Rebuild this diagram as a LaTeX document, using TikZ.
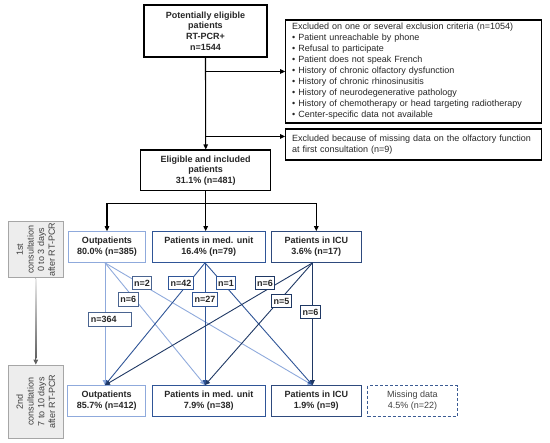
\documentclass[tikz,border=0pt]{standalone}
\usepackage{fontspec}
\setmainfont{Liberation Sans}
\usetikzlibrary{arrows.meta,calc}
\definecolor{lb}{HTML}{8FAADC}
\definecolor{mb}{HTML}{2F5597}
\definecolor{db}{HTML}{1F3864}
\definecolor{ib}{HTML}{2E4A7D}
\definecolor{lablb}{HTML}{4A6490}
\definecolor{txt}{HTML}{262626}
\definecolor{sidefill}{HTML}{EDEDED}
\definecolor{sidedraw}{HTML}{A6A6A6}
\definecolor{sidetxt}{HTML}{404040}
\begin{document}
\begin{tikzpicture}[x=1pt,y=-1pt,
  every node/.style={inner sep=0pt, text=txt},
  blk/.style={draw=black, line width=1.1pt, align=center, font=\fontsize{9}{10.7}\selectfont\bfseries},
  exbox/.style={draw=black, line width=1.1pt, align=left, font=\fontsize{9}{11}\selectfont, inner xsep=6.5pt, text width=243pt},
  bluebox/.style={draw=#1, line width=1pt, fill=white, align=center, font=\fontsize{9}{10.7}\selectfont\bfseries, minimum height=30.7pt},
  sidebox/.style={draw=sidedraw, fill=sidefill, line width=0.8pt},
  sidetext/.style={align=center, text=sidetxt, rotate=90, font=\fontsize{9}{10.7}\selectfont},
  lab/.style={draw=#1, fill=white, line width=0.9pt, font=\fontsize{9}{10}\selectfont\bfseries, minimum height=13.5pt, inner xsep=2pt},
  arr/.style={-{Triangle[length=5pt,width=4.5pt]}},
  blkline/.style={draw=black, line width=1.1pt, arr},
  conn/.style={draw=#1, line width=0.9pt, -{Triangle[length=5pt,width=4.5pt]}}
]
\useasboundingbox (0,0) rectangle (550,443);

% top level
\node[blk, minimum width=123pt, minimum height=52pt] (top) at (205.5,31)
  {Potentially eligible\\patients\\RT-PCR+\\n=1544};
\node[exbox, minimum height=103pt] (ex1) at (413.7,71.5)
  {Excluded on one or several exclusion criteria (n=1054)\\
   • Patient unreachable by phone\\
   • Refusal to participate\\
   • Patient does not speak French\\
   • History of chronic olfactory dysfunction\\
   • History of chronic rhinosinusitis\\
   • History of neurodegenerative pathology\\
   • History of chemotherapy or head targeting radiotherapy\\
   • Center-specific data not available};
\node[exbox, minimum height=31pt] (ex2) at (413.7,144.5)
  {Excluded because of missing data on the olfactory function\\at first consultation (n=9)};
\node[blk, minimum width=130pt, minimum height=40.7pt] (elig) at (205.7,170.4)
  {Eligible and included\\patients\\31.1\% (n=481)};

% first consultation row
\node[bluebox=lb, minimum width=77.4pt] (o1) at (107,247) {Outpatients\\80.0\% (n=385)};
\node[bluebox=mb, minimum width=112.3pt] (m1) at (208.85,247) {Patients in med. unit\\16.4\% (n=79)};
\node[bluebox=ib, minimum width=89.3pt] (i1) at (316.35,247) {Patients in ICU\\3.6\% (n=17)};

% second consultation row
\node[bluebox=lb, minimum width=78pt] (o2) at (106.7,401) {Outpatients\\85.7\% (n=412)};
\node[bluebox=mb, minimum width=112.3pt] (m2) at (208.85,401) {Patients in med. unit\\7.9\% (n=38)};
\node[bluebox=ib, minimum width=89.3pt] (i2) at (316.35,401) {Patients in ICU\\1.9\% (n=9)};
\node[draw=mb!85!gray, line width=1pt, dash pattern=on 3pt off 2pt, minimum width=89.6pt, minimum height=30.7pt,
  align=center, text=sidetxt, font=\fontsize{9}{10.7}\selectfont] (md) at (412.5,401) {Missing data\\4.5\% (n=22)};

% side boxes
\node[sidebox, minimum width=55pt, minimum height=56pt] (s1) at (35.8,249.7) {};
\node[sidetext] (s1t) at (s1.center) {1st\\consultation\\0 to 3 days\\after RT-PCR};
\node[sidebox, minimum width=55.4pt, minimum height=73.3pt] (s2) at (35.8,401.7) {};
\node[sidetext] (s2t) at (s2.center) {2nd\\consultation\\7 to 10 days\\after RT-PCR};
\draw[draw=gray!75!black, line width=1pt, arr] (s1.south) -- (s2.north);
\shade[top color=gray!15, bottom color=gray!75!black]
  ($(s1.south)+(-0.55,0)$) rectangle ($(s2.north)+(0.55,-6)$);

% black flow
\draw[blkline] (top.south) -- (elig.north);
\coordinate (b2) at ($(ex2.north west)+(0,8)$);
\draw[blkline] (top.south |- ex1.west) -- (ex1.west);
\draw[blkline] (top.south |- b2) -- (b2);
\coordinate (jn) at ($(elig.south)+(0,12)$);
\draw[line width=1.1pt] (o1.north |- jn) -- (i1.north |- jn);
\draw[blkline] (elig.south) -- (jn) -- (jn |- m1.north);
\draw[blkline] (o1.north |- jn) -- (o1.north);
\draw[blkline] (i1.north |- jn) -- (i1.north);

% transition endpoints
\coordinate (os) at ($(o1.south)+(-2,0)$);
\coordinate (ms) at ($(m1.south)+(-3.85,0)$);
\coordinate (is) at ($(i1.south)+(-3.85,0)$);
\coordinate (ot) at ($(o2.north)+(-1.7,0)$);
\coordinate (mt) at ($(m2.north)+(-3.85,0)$);
\coordinate (it) at ($(i2.north)+(-3.85,0)$);

\draw[conn=lb] (os) -- (ot);
\draw[conn=lb] (os) -- (mt);
\draw[conn=lb] (os) -- (it);
\draw[conn=mb] (ms) -- (ot);
\draw[conn=mb] (ms) -- (mt);
\draw[conn=mb] (ms) -- (it);
\draw[conn=db] (is) -- (ot);
\draw[conn=db] (is) -- (mt);
\draw[conn=db] (is) -- (it);

% labels
\node[lab=lablb, text width=38.4pt, align=left] (l364) at (110,319.7) {n=364};
\node[lab=lablb] (l6a) at (128.3,299.4) {n=6};
\node[lab=lablb] (l2) at (142,283) {n=2};
\node[lab=mb] (l42) at (181,283) {n=42};
\node[lab=mb] (l27) at (205,299.7) {n=27};
\node[lab=mb] (l1) at (226,283) {n=1};
\node[lab=db] (l6b) at (265,283) {n=6};
\node[lab=db] (l5) at (281.4,301) {n=5};
\node[lab=db] (l6c) at (310.5,312) {n=6};
\end{tikzpicture}
\end{document}
